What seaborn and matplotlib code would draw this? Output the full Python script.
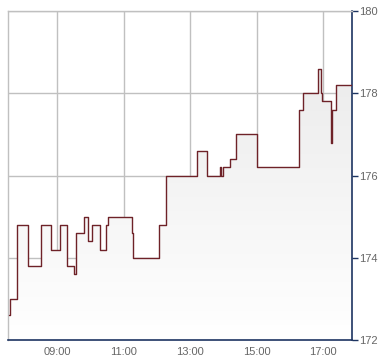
import numpy as np
import pandas as pd
import matplotlib
matplotlib.use("Agg")
import matplotlib.pyplot as plt
import matplotlib.dates as mdates
from matplotlib.patches import Polygon
from matplotlib.colors import LinearSegmentedColormap
import seaborn as sns

# ---- data ----
times = ["07:33", "07:34", "07:47", "08:08", "08:31", "08:48", "09:05", "09:18", "09:30",
         "09:34", "09:49", "09:55", "10:03", "10:17", "10:28", "10:31", "11:15", "11:17",
         "12:04", "12:17", "13:12", "13:30", "13:54", "13:56", "14:00", "14:12", "14:23",
         "15:01", "16:17", "16:24", "16:50", "16:56", "16:58", "17:14", "17:16", "17:24",
         "17:52"]
prices = [172.6, 173.0, 174.8, 173.8, 174.8, 174.2, 174.8, 173.8, 173.6,
          174.6, 175.0, 174.4, 174.8, 174.2, 174.8, 175.0, 174.6, 174.0,
          174.8, 176.0, 176.6, 176.0, 176.2, 176.0, 176.2, 176.4, 177.0,
          176.2, 177.6, 178.0, 178.6, 178.0, 177.8, 176.8, 177.6, 178.2,
          178.2]
x_ticks = ["09:00", "11:00", "13:00", "15:00", "17:00"]
y_ticks = [172, 174, 176, 178, 180]

day = "2024-01-02 "
df = pd.DataFrame({"time": pd.to_datetime([day + t for t in times]), "price": prices})

sns.set_style("white")
plt.rcParams["font.family"] = ["Liberation Sans", "DejaVu Sans"]

fig = plt.figure(figsize=(3.9, 3.64), dpi=100)
ax = fig.add_axes([8 / 390, 1 - 340 / 364, 344 / 390, 329 / 364])

sns.lineplot(data=df, x="time", y="price", drawstyle="steps-post",
             color="#6e2228", linewidth=1.0, ax=ax, zorder=4)

xmin = mdates.date2num(pd.Timestamp(day + "07:31"))
xmax = mdates.date2num(pd.Timestamp(day + "17:52"))
ax.set_xlim(xmin, xmax)
ax.set_ylim(172, 180)

# gradient fill under the step line
xs = mdates.date2num(df["time"])
ys = df["price"].values
px, py = [], []
for i in range(len(xs)):
    if i > 0:
        px.append(xs[i]); py.append(ys[i - 1])
    px.append(xs[i]); py.append(ys[i])
poly_pts = [(px[0], 172)] + list(zip(px, py)) + [(px[-1], 172)]
poly = Polygon(poly_pts, closed=True, facecolor="none", edgecolor="none")
ax.add_patch(poly)
cmap = LinearSegmentedColormap.from_list("g", ["#ffffff", "#e8e8e8"])
grad = np.linspace(1.0, 0.0, 256).reshape(-1, 1)
im = ax.imshow(grad, extent=[xmin, xmax, 172, 180], origin="upper", aspect="auto",
               cmap=cmap, zorder=1, vmin=0, vmax=1)
im.set_clip_path(poly)

# ticks
ax.set_xticks(mdates.date2num(pd.to_datetime([day + t for t in x_ticks])))
ax.set_xticklabels(x_ticks)
ax.set_yticks(y_ticks)
ax.set_yticklabels([str(v) for v in y_ticks])
ax.yaxis.tick_right()
ax.set_xlabel("")
ax.set_ylabel("")
ax.tick_params(axis="both", labelsize=8, colors="#1d3461",
               length=4, width=1, direction="out", pad=1)
for lab in ax.get_xticklabels() + ax.get_yticklabels():
    lab.set_color("#666666")

ax.grid(True, color="#c0c0c0", linewidth=1, zorder=0)
ax.set_axisbelow(True)

for side in ["left", "top"]:
    ax.spines[side].set_visible(True)
    ax.spines[side].set_color("#c0c0c0")
    ax.spines[side].set_linewidth(1)
for side in ["right", "bottom"]:
    ax.spines[side].set_visible(True)
    ax.spines[side].set_color("#1d3461")
    ax.spines[side].set_linewidth(1.2)

fig.savefig("out.png", dpi=100)
